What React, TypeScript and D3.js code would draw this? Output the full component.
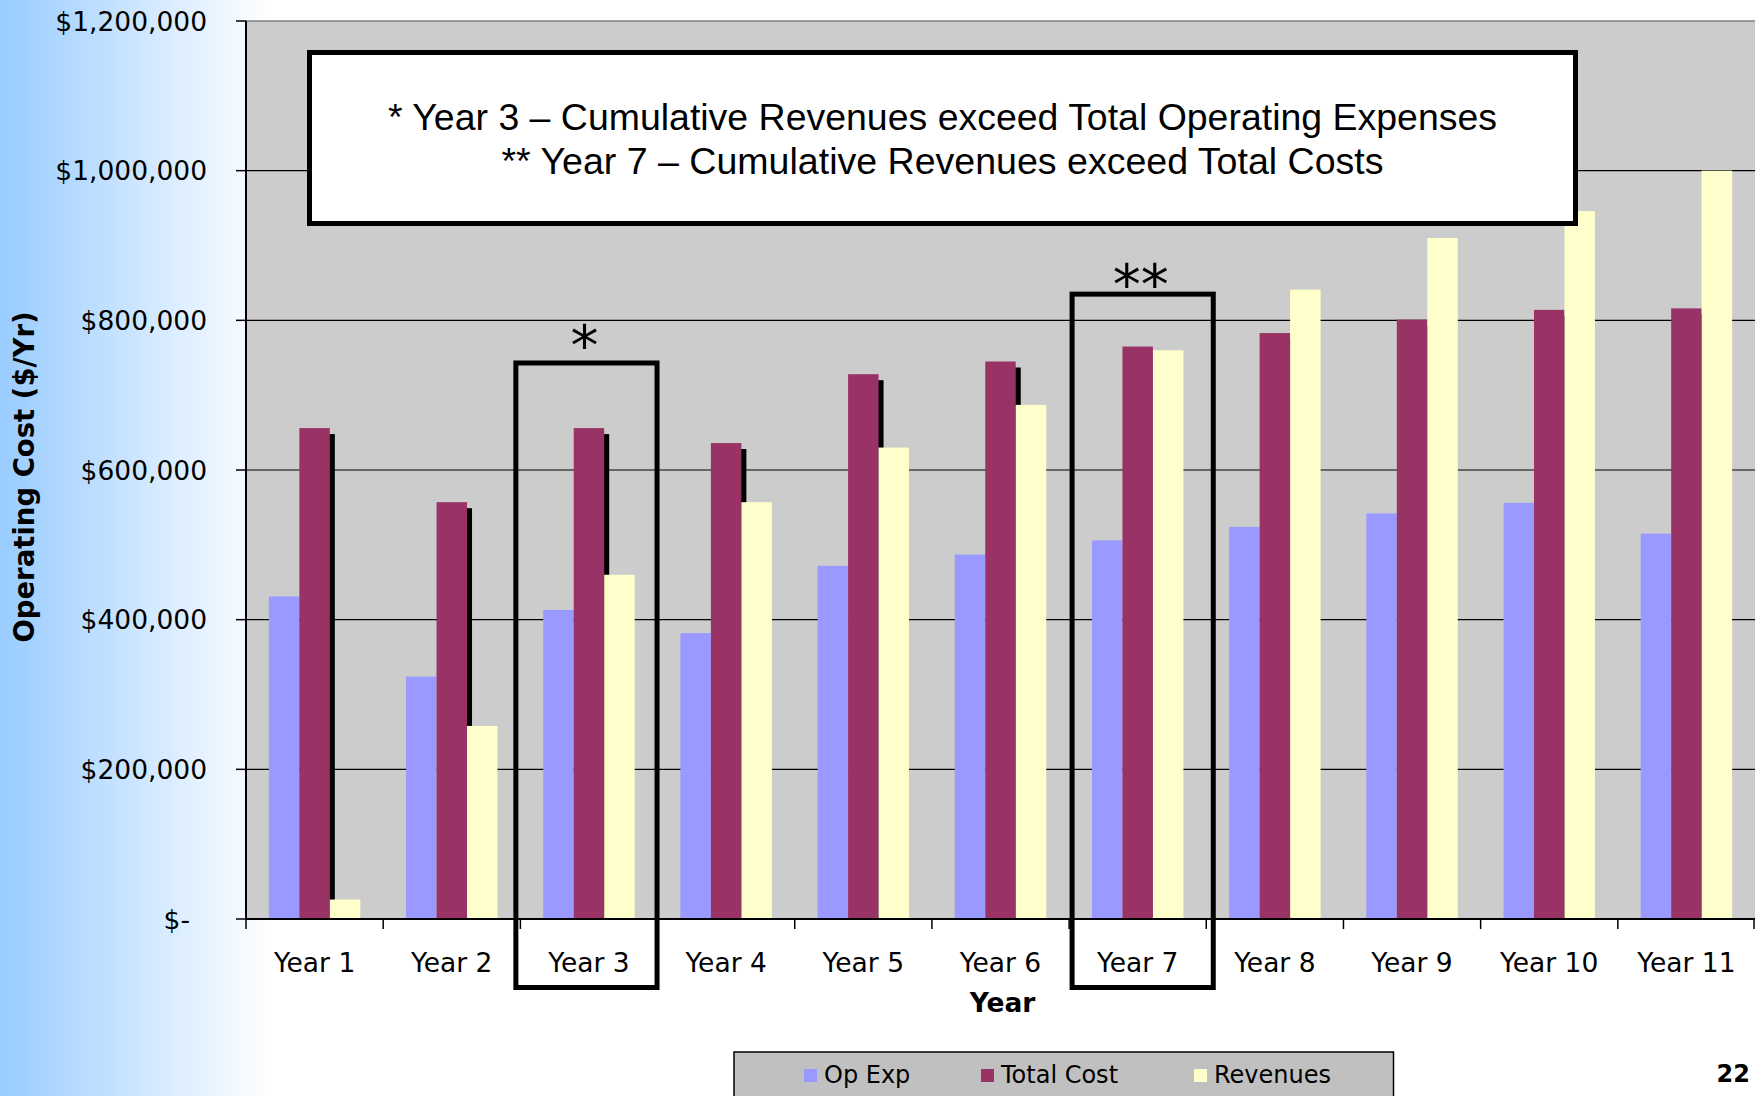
import * as d3 from "d3";

const years = ["Year 1", "Year 2", "Year 3", "Year 4", "Year 5", "Year 6", "Year 7", "Year 8", "Year 9", "Year 10", "Year 11"];
const opExp = [431000, 324000, 413000, 382000, 472000, 487000, 506000, 524000, 542000, 556000, 515000];
const totalCost = [656000, 557000, 656000, 636000, 728000, 745000, 765000, 783000, 801000, 814000, 816000];
const revenues = [26000, 258000, 460000, 557000, 630000, 687000, 760000, 841000, 910000, 946000, 1000000];
const seriesNames = ["Op Exp", "Total Cost", "Revenues"];
const seriesColors = ["#9999ff", "#993366", "#ffffcc"];
const yTicks = [0, 200000, 400000, 600000, 800000, 1000000, 1200000];

// highlighted years with the note marks above them
const markedYears = ["Year 3", "Year 7"];
const markLabels = ["*", "**"];
const markTops = [743000, 835000];

const noteLines = [
  "* Year 3 \u2013 Cumulative Revenues exceed Total Operating Expenses",
  "** Year 7 \u2013 Cumulative Revenues exceed Total Costs",
];

const W = 1755;
const H = 1096;
const m = { top: 21, right: 0, bottom: 177, left: 246 };
const axisFont = "'DejaVu Sans', Verdana, sans-serif";

export default function App() {
  const x = d3
    .scaleBand<string>()
    .domain(years)
    .range([m.left, W - m.right])
    .paddingInner(1 / 3)
    .paddingOuter(1 / 6);
  const xs = d3.scaleBand<string>().domain(seriesNames).range([0, x.bandwidth()]);
  const y = d3.scaleLinear().domain([0, 1200000]).range([H - m.bottom, m.top]);
  const step = x.step();
  const catStart = (yr: string) => (x(yr) ?? 0) - (step - x.bandwidth()) / 2;
  const y0 = y(0);
  const fmt = d3.format("$,.0f");

  const rows = years.map((yr, i) => ({ yr, vals: [opExp[i], totalCost[i], revenues[i]] }));

  return (
    <svg width={W} height={H} style={{ position: "absolute", left: 0, top: 0, display: "block" }}>
      <defs>
        <linearGradient id="bg" x1="0" x2="270" y1="0" y2="0" gradientUnits="userSpaceOnUse">
          <stop offset="0" stopColor="#99ccff" />
          <stop offset="1" stopColor="#ffffff" />
        </linearGradient>
        <clipPath id="plot">
          <rect x={m.left} y={m.top} width={W - m.left} height={y0 - m.top} />
        </clipPath>
      </defs>
      <rect width={W} height={H} fill="url(#bg)" />

      {/* plot area */}
      <rect x={m.left} y={m.top} width={W - m.left + 2} height={y0 - m.top} fill="#cccccc" stroke="#808080" strokeWidth={1.5} />
      {yTicks.filter((t) => t > 0 && t < 1200000).map((t) => (
        <line key={t} x1={m.left} x2={W} y1={y(t)} y2={y(t)} stroke="#000" strokeWidth={1.2} />
      ))}

      {/* bars */}
      <g clipPath="url(#plot)">
        {rows.map((r) => {
          const gx = x(r.yr) ?? 0;
          return (
            <g key={r.yr}>
              <rect x={gx + (xs("Op Exp") ?? 0)} y={y(r.vals[0])} width={xs.bandwidth()} height={y0 - y(r.vals[0])} fill={seriesColors[0]} />
              <rect x={gx + (xs("Total Cost") ?? 0) + 5} y={y(r.vals[1]) + 6} width={xs.bandwidth()} height={y0 - y(r.vals[1])} fill="#000" />
              <rect x={gx + (xs("Total Cost") ?? 0)} y={y(r.vals[1])} width={xs.bandwidth()} height={y0 - y(r.vals[1])} fill={seriesColors[1]} />
              <rect x={gx + (xs("Revenues") ?? 0)} y={y(r.vals[2])} width={xs.bandwidth()} height={y0 - y(r.vals[2])} fill={seriesColors[2]} />
            </g>
          );
        })}
      </g>

      {/* axes */}
      <line x1={m.left} x2={m.left} y1={m.top} y2={y0} stroke="#000" strokeWidth={2} />
      <line x1={m.left} x2={W} y1={y0} y2={y0} stroke="#000" strokeWidth={2} />
      {yTicks.map((t) => (
        <g key={t}>
          <line x1={m.left - 10} x2={m.left} y1={y(t)} y2={y(t)} stroke="#000" strokeWidth={1.5} />
          <text
            x={t === 0 ? 190 : 207}
            y={y(t)}
            dy="0.36em"
            textAnchor="end"
            fontFamily={axisFont}
            fontSize={26.5}
            fill="#000"
          >
            {t === 0 ? "$-" : fmt(t)}
          </text>
        </g>
      ))}
      {years.map((yr) => (
        <g key={yr}>
          <line x1={catStart(yr)} x2={catStart(yr)} y1={y0} y2={y0 + 10} stroke="#000" strokeWidth={1.5} />
          <text x={(x(yr) ?? 0) + x.bandwidth() / 2} y={972} textAnchor="middle" fontFamily={axisFont} fontSize={26.5} fill="#000">
            {yr}
          </text>
        </g>
      ))}
      <line x1={W - 1} x2={W - 1} y1={y0} y2={y0 + 10} stroke="#000" strokeWidth={1.5} />

      <text x={(m.left + W) / 2 + 2} y={1012} textAnchor="middle" fontFamily={axisFont} fontSize={26.5} fontWeight="bold">
        Year
      </text>
      <text
        transform={`translate(34,${477}) rotate(-90)`}
        textAnchor="middle"
        fontFamily={axisFont}
        fontSize={27.5}
        fontWeight="bold"
      >
        Operating Cost ($/Yr)
      </text>

      {/* highlighted years */}
      {markedYears.map((yr, i) => {
        const shift = i === 0 ? -3.5 : 4;
        const left = catStart(yr) - 1 + shift;
        const right = catStart(yr) + step + 3 + shift;
        const top = y(markTops[i]);
        return (
          <g key={yr}>
            <rect x={left} y={top} width={right - left} height={987.5 - top} fill="none" stroke="#000" strokeWidth={5} />
            <text
              x={(left + right) / 2 - 2}
              y={top + (i === 0 ? 2 : 10)}
              textAnchor="middle"
              fontFamily={axisFont}
              fontSize={56}
              fill="#000"
            >
              {markLabels[i]}
            </text>
          </g>
        );
      })}

      {/* note box */}
      <rect x={309.5} y={52.5} width={1266} height={171} fill="#fff" stroke="#000" strokeWidth={5} />
      {noteLines.map((l, i) => (
        <text
          key={i}
          x={942.5}
          y={129.5 + i * 44.5}
          textAnchor="middle"
          fontFamily="'Liberation Sans', Arial, sans-serif"
          fontSize={36}
          textLength={i === 0 ? 1109 : 882}
          lengthAdjust="spacingAndGlyphs"
          fill="#000"
        >
          {l}
        </text>
      ))}

      {/* legend */}
      <rect x={734} y={1052} width={659.5} height={60} fill="#c0c0c0" stroke="#000" strokeWidth={1.5} />
      {seriesNames.map((s, i) => {
        const lx = [804, 981, 1194][i];
        return (
          <g key={s}>
            <rect x={lx} y={1069} width={13} height={13} fill={seriesColors[i]} />
            <text x={lx + 20} y={1083} fontFamily={axisFont} fontSize={24} fill="#000">
              {s}
            </text>
          </g>
        );
      })}

      <text x={1750} y={1082} textAnchor="end" fontFamily={axisFont} fontSize={24} fontWeight="bold">
        22
      </text>
    </svg>
  );
}
